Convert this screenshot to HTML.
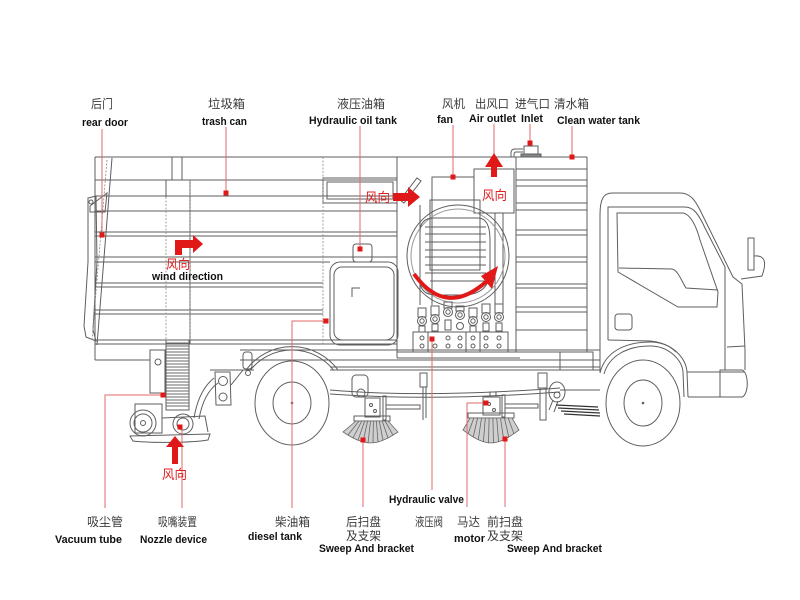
<!DOCTYPE html>
<html><head><meta charset="utf-8"><style>
html,body{margin:0;padding:0;background:#fff;}
svg{display:block;}
.l{fill:none;stroke:#5e5e5e;stroke-width:1;}
.g{fill:none;stroke:#8a8a8a;stroke-width:0.8;}
.ds{fill:none;stroke:#8a8a8a;stroke-width:0.8;stroke-dasharray:2 1.5;}
.r{fill:none;stroke:#e26a6a;stroke-width:1;}
.d{fill:#e01818;}
.ra{fill:#e01818;}
.cn{font-family:"Liberation Sans","Noto Sans CJK SC",sans-serif;font-size:12px;fill:#3a3a3a;}
.en{font-family:"Liberation Sans",sans-serif;font-size:11px;font-weight:bold;fill:#111;}
.rc{font-family:"Liberation Sans","Noto Sans CJK SC",sans-serif;font-size:13px;fill:#e02020;}
</style></head><body>
<svg width="800" height="600" viewBox="0 0 800 600" xmlns="http://www.w3.org/2000/svg">

<!-- ===== BODY: trash can ===== -->
<g class="l">
  <line x1="95" y1="157" x2="587" y2="157"/>
  <line x1="95" y1="157" x2="95" y2="360"/>
  <line x1="95" y1="360" x2="150" y2="360"/>
  <line x1="95" y1="180" x2="166" y2="180"/>
  <line x1="190" y1="180" x2="397" y2="180"/>
  <line x1="95" y1="196" x2="397" y2="196"/>
  <line x1="95" y1="211" x2="397" y2="211"/>
  <line x1="95" y1="232" x2="397" y2="232"/>
  <line x1="95" y1="236" x2="397" y2="236"/>
  <line x1="95" y1="257" x2="397" y2="257"/>
  <line x1="95" y1="262" x2="330" y2="262"/>
  <line x1="95" y1="283" x2="323" y2="283"/>
  <line x1="95" y1="287" x2="323" y2="287"/>
  <line x1="95" y1="310" x2="323" y2="310"/>
  <line x1="95" y1="314" x2="323" y2="314"/>
  <line x1="95" y1="340" x2="397" y2="340"/>
  <line x1="95" y1="344" x2="397" y2="344"/>
  <line x1="397" y1="157" x2="397" y2="358"/>
  <!-- post + notch -->
  <rect x="172" y="157" width="10" height="23"/>
  <path d="M166,197 L166,180 L190,180 L190,344"/>
  <!-- hydraulic oil tank section -->
  <path d="M323,178 L397,178 L397,203 L323,203 Z"/>
  <path d="M327,182 L393,182 L393,199 L327,199 Z"/>
  <rect x="353" y="244" width="19" height="18" rx="3"/>
  <rect x="330" y="262" width="68" height="83" rx="10"/>
  <rect x="334" y="267" width="60" height="73" rx="8"/>
  <path d="M352,297 L352,288 L360,288"/>
</g>
<line class="ds" x1="323" y1="157" x2="323" y2="345"/>
<line class="ds" x1="166" y1="197" x2="166" y2="340"/>
<line class="ds" x1="190" y1="180" x2="190" y2="340"/>

<!-- rear door -->
<g class="l">
  <line x1="112" y1="158" x2="97" y2="345"/>
  <path d="M90,206 L107,193 L105,212 L90,212 Z"/>
  <path d="M88,198 L96,196 L97,262 L93,330 L96,341 L86,337 L84,326 L88,262 Z"/>
  <circle cx="91" cy="202" r="2"/>
</g>
<line class="ds" x1="107" y1="160" x2="92" y2="340"/>

<!-- ===== Fan section ===== -->
<g class="l">
  <path d="M400,200 L417,178 L421,181 L404,203 Z"/>
  <path d="M432,305 L432,177 L474,177"/>
  <rect x="474" y="169" width="40" height="44"/>
  <line x1="420" y1="205" x2="420" y2="305"/>
  <line x1="495" y1="213" x2="495" y2="305"/>
  <line x1="503" y1="213" x2="503" y2="305"/>
  <circle cx="458" cy="256" r="51"/>
  <circle cx="458" cy="256" r="47" stroke="#9a9a9a"/>
  <path d="M420,232 Q420,218 434,218 L478,218 Q490,218 490,240 L490,270 Q490,295 462,295 L436,295 Q420,295 420,280 Z"/>
  <rect x="430" y="200" width="50" height="70"/>
  <line x1="425" y1="227" x2="486" y2="227"/>
  <line x1="425" y1="234" x2="486" y2="234"/>
  <line x1="425" y1="242" x2="486" y2="242"/>
  <line x1="425" y1="250" x2="486" y2="250"/>
  <line x1="425" y1="257" x2="486" y2="257"/>
  <line x1="425" y1="265" x2="486" y2="265"/>
  <line x1="425" y1="273" x2="486" y2="273"/>
  <line x1="430" y1="281" x2="484" y2="281"/>
  <!-- valve block -->
  <rect x="413" y="332" width="95" height="20"/>
  <line x1="397" y1="352" x2="520" y2="352"/>
  <line x1="397" y1="358" x2="520" y2="358"/>
</g>
<g class="l" stroke-width="0.9">
  <rect x="418" y="308" width="8" height="9"/><circle cx="422" cy="321" r="4.5"/><circle cx="422" cy="321" r="2.2"/><rect x="419" y="326" width="6" height="6"/><circle cx="422" cy="338" r="2"/><circle cx="422" cy="346" r="2"/>
  <rect x="431" y="306" width="8" height="9"/><circle cx="435" cy="319" r="4.5"/><circle cx="435" cy="319" r="2.2"/><rect x="432" y="324" width="6" height="7"/><circle cx="435" cy="346" r="2"/>
  <rect x="444" y="302" width="8" height="6"/><circle cx="448" cy="312" r="4.5"/><circle cx="448" cy="312" r="2.2"/><rect x="445" y="320" width="6" height="10"/><circle cx="448" cy="338" r="2"/><circle cx="448" cy="346" r="2"/>
  <rect x="456" y="306" width="8" height="5"/><circle cx="460" cy="315" r="4.5"/><circle cx="460" cy="315" r="2.2"/><circle cx="460" cy="326" r="3.5"/><circle cx="460" cy="338" r="2"/><circle cx="460" cy="346" r="2"/>
  <rect x="469" y="308" width="8" height="9"/><circle cx="473" cy="321" r="4.5"/><circle cx="473" cy="321" r="2.2"/><rect x="470" y="326" width="6" height="6"/><circle cx="473" cy="338" r="2"/><circle cx="473" cy="346" r="2"/>
  <rect x="482" y="304" width="8" height="9"/><circle cx="486" cy="317" r="4.5"/><circle cx="486" cy="317" r="2.2"/><rect x="483" y="323" width="6" height="8"/><circle cx="486" cy="338" r="2"/><circle cx="486" cy="346" r="2"/>
  <rect x="495" y="304" width="8" height="9"/><circle cx="499" cy="317" r="4.5"/><circle cx="499" cy="317" r="2.2"/><rect x="496" y="323" width="6" height="8"/><circle cx="499" cy="338" r="2"/><circle cx="499" cy="346" r="2"/>
  <line x1="428" y1="332" x2="428" y2="352"/><line x1="466" y1="332" x2="466" y2="352"/><line x1="480" y1="332" x2="480" y2="352"/>
</g>

<!-- ===== Clean water tank ===== -->
<g class="l">
  <line x1="516" y1="157" x2="516" y2="352"/>
  <line x1="587" y1="157" x2="587" y2="352"/>
  <line x1="516" y1="169" x2="587" y2="169"/>
  <line x1="516" y1="180" x2="587" y2="180"/>
  <line x1="516" y1="186" x2="587" y2="186"/>
  <line x1="516" y1="203" x2="587" y2="203"/>
  <line x1="516" y1="210" x2="587" y2="210"/>
  <line x1="516" y1="230" x2="587" y2="230"/>
  <line x1="516" y1="235" x2="587" y2="235"/>
  <line x1="516" y1="257" x2="587" y2="257"/>
  <line x1="516" y1="262" x2="587" y2="262"/>
  <line x1="516" y1="284" x2="587" y2="284"/>
  <line x1="516" y1="288" x2="587" y2="288"/>
  <line x1="516" y1="307" x2="587" y2="307"/>
  <line x1="516" y1="312" x2="587" y2="312"/>
  <line x1="516" y1="330" x2="587" y2="330"/>
  <line x1="516" y1="352" x2="593" y2="352"/>
  <rect x="560" y="352" width="33" height="18"/>
  <!-- inlet -->
  <rect x="524" y="146" width="14" height="8"/>
  <rect x="521" y="154" width="20" height="3" fill="#888"/>
  <path d="M523,149 L515,149 Q511,149 511,153 L511,157"/>
  <path d="M523,152 L516,152 Q514,152 514,155 L514,157"/>
</g>

<!-- ===== Chassis ===== -->
<g class="l">
  <line x1="240" y1="350" x2="600" y2="350"/>
  <line x1="240" y1="360" x2="600" y2="360"/>
  <line x1="330" y1="367" x2="600" y2="367"/>
  <line x1="330" y1="370" x2="600" y2="370"/>
  <line x1="210" y1="370" x2="254" y2="370"/>
  <line x1="560" y1="390" x2="600" y2="390"/>
  <path d="M330,390 C400,396 480,394 560,388"/>
  <path d="M330,394 C400,399 480,398 560,392"/>
  <!-- rear wheel arch + wheel -->
  <path d="M250.5,370 A53,53 0 0 1 333.5,370"/>
  <path d="M246,370 A57,57 0 0 1 338,370"/>
  <ellipse cx="292" cy="403" rx="37" ry="42"/>
  <ellipse cx="292" cy="403" rx="19" ry="21"/>
  <circle cx="292" cy="403" r="0.8" fill="#555"/>
  <!-- bracket near arch -->
  <rect x="243" y="352" width="9" height="17" rx="3"/>
  <circle cx="248" cy="373" r="2.5"/>
</g>

<!-- vacuum tube + nozzle -->
<g class="l">
  <rect x="150" y="350" width="15" height="43"/>
  <circle cx="158" cy="362" r="3"/>
  <rect x="166" y="340" width="23" height="70"/>
</g>
<g stroke="#6a6a6a" stroke-width="0.9">
  <line x1="166" y1="343" x2="189" y2="343"/><line x1="166" y1="346" x2="189" y2="346"/><line x1="166" y1="349" x2="189" y2="349"/><line x1="166" y1="352" x2="189" y2="352"/><line x1="166" y1="355" x2="189" y2="355"/><line x1="166" y1="358" x2="189" y2="358"/><line x1="166" y1="361" x2="189" y2="361"/><line x1="166" y1="364" x2="189" y2="364"/><line x1="166" y1="367" x2="189" y2="367"/><line x1="166" y1="370" x2="189" y2="370"/><line x1="166" y1="373" x2="189" y2="373"/><line x1="166" y1="376" x2="189" y2="376"/><line x1="166" y1="379" x2="189" y2="379"/><line x1="166" y1="382" x2="189" y2="382"/><line x1="166" y1="385" x2="189" y2="385"/><line x1="166" y1="388" x2="189" y2="388"/><line x1="166" y1="391" x2="189" y2="391"/><line x1="166" y1="394" x2="189" y2="394"/><line x1="166" y1="397" x2="189" y2="397"/><line x1="166" y1="400" x2="189" y2="400"/><line x1="166" y1="403" x2="189" y2="403"/><line x1="166" y1="406" x2="189" y2="406"/>
</g>
<g class="l">
  <rect x="135" y="404" width="27" height="29"/>
  <circle cx="143" cy="423" r="13"/>
  <circle cx="143" cy="423" r="9"/>
  <circle cx="143" cy="423" r="2.5"/>
  <circle cx="183" cy="424" r="10"/>
  <circle cx="183" cy="424" r="6"/>
  <path d="M130,436 L210,434 L208,440 C190,443 150,443 133,441 Z"/>
  <path d="M162,418 L205,416 L208,432"/>
  <path d="M194,418 C197,400 204,386 214,378"/>
  <path d="M199,419 C202,402 208,390 218,383"/>
  <path d="M215,372 L230,372 L231,405 L216,405 Z"/>
  <circle cx="223" cy="381" r="4.5"/>
  <circle cx="223" cy="397" r="4"/>
  <line x1="231" y1="385" x2="243" y2="370"/>
</g>

<!-- rear sweep -->
<g class="l">
  <rect x="352" y="375" width="16" height="22" rx="4"/>
  <circle cx="361" cy="393" r="4"/>
  <rect x="365" y="398" width="15" height="19"/>
  <circle cx="371" cy="405" r="1.5"/><circle cx="375" cy="411" r="1.5"/>
  <rect x="383" y="396" width="3" height="24"/>
  <rect x="386" y="405" width="34" height="4"/>
  <rect x="420" y="373" width="7" height="14"/>
  <line x1="423" y1="387" x2="423" y2="420"/>
  <line x1="426" y1="387" x2="426" y2="418"/>
  <rect x="354" y="416" width="36" height="5"/>
</g>
<path d="M356,421 L388,421 L398,432 L393,435.1 L388,438 L383,440.3 L378,442 L373,442.9 L368,442.9 L363,442 L358,440.3 L353,438 L348,435.1 L343,432 Z" fill="#cfcfcf" stroke="#666" stroke-width="0.8"/>
<g stroke="#666" stroke-width="0.8">
  <line x1="358.9" y1="421" x2="348" y2="435.1"/><line x1="361.8" y1="421" x2="353" y2="438"/><line x1="364.7" y1="421" x2="358" y2="440.3"/><line x1="367.6" y1="421" x2="363" y2="442"/><line x1="370.5" y1="421" x2="368" y2="442.9"/><line x1="373.4" y1="421" x2="373" y2="442.9"/><line x1="376.4" y1="421" x2="378" y2="442"/><line x1="379.3" y1="421" x2="383" y2="440.3"/><line x1="382.2" y1="421" x2="388" y2="438"/><line x1="385.1" y1="421" x2="393" y2="435.1"/>
</g>

<!-- front sweep -->
<g class="l">
  <rect x="490" y="392" width="6" height="5"/>
  <rect x="483" y="397" width="17" height="18"/>
  <circle cx="489" cy="404" r="1.5"/><circle cx="494" cy="410" r="1.5"/>
  <rect x="502" y="395" width="3" height="22"/>
  <rect x="505" y="404" width="33" height="4"/>
  <rect x="538" y="373" width="9" height="15"/>
  <rect x="540" y="388" width="6" height="32"/>
  <ellipse cx="557" cy="392" rx="8" ry="10"/>
  <circle cx="557" cy="395" r="3"/>
  <line x1="553" y1="400" x2="549" y2="410"/>
  <line x1="558" y1="401" x2="554" y2="412"/>
  <rect x="468" y="413" width="46" height="5"/>
</g>
<path d="M470,418 L512,418 L519,430 L513.9,433.7 L508.8,437 L503.7,439.8 L498.6,441.8 L493.5,442.9 L488.5,442.9 L483.4,441.8 L478.3,439.8 L473.2,437 L468.1,433.7 L463,430 Z" fill="#cfcfcf" stroke="#666" stroke-width="0.8"/>
<g stroke="#666" stroke-width="0.8">
  <line x1="473.8" y1="418" x2="468.1" y2="433.7"/><line x1="477.6" y1="418" x2="473.2" y2="437"/><line x1="481.5" y1="418" x2="478.3" y2="439.8"/><line x1="485.3" y1="418" x2="483.4" y2="441.8"/><line x1="489.1" y1="418" x2="488.5" y2="442.9"/><line x1="492.9" y1="418" x2="493.5" y2="442.9"/><line x1="496.7" y1="418" x2="498.6" y2="441.8"/><line x1="500.5" y1="418" x2="503.7" y2="439.8"/><line x1="504.4" y1="418" x2="508.8" y2="437"/><line x1="508.2" y1="418" x2="513.9" y2="433.7"/>
</g>
<!-- dark strips -->
<g stroke="#333" stroke-width="1.3">
  <line x1="556" y1="405" x2="598" y2="407"/>
  <line x1="558" y1="408" x2="599" y2="410"/>
  <line x1="561" y1="411" x2="600" y2="413"/>
  <line x1="564" y1="414" x2="600" y2="416"/>
</g>

<!-- ===== Cab ===== -->
<g class="l">
  <path d="M600,372 L600,215 C600,200 603,193 612,193 L680,193 C690,193 695,200 700,210 L733,277 L742,284 L745,350 L745,370"/>
  <path d="M608,340 L608,207 L685,207 C694,207 699,215 705,228 L725,267 L725,370"/>
  <path d="M617,213 L683,213 C690,214 696,225 700,240 L718,292 L717,307 L678,307 L618,272 Z"/>
  <path d="M619,268 L672,269 C678,270 682,282 686,288 L718,290"/>
  <rect x="615" y="314" width="17" height="16" rx="3"/>
  <path d="M608,340 L650,341 C662,342 670,346 676,352"/>
  <path d="M600,373 C605,352 625,342 650,342 C672,342 686,358 687,372 L688,397"/>
  <path d="M604,374 C609,356 627,346 650,346 C669,346 682,360 683,372 L684,397"/>
  <line x1="687" y1="372" x2="745" y2="372"/>
  <line x1="688" y1="397" x2="720" y2="397"/>
  <path d="M720,370 L742,370 C749,372 749,395 742,397 L720,397 Z"/>
  <line x1="727" y1="347" x2="745" y2="346"/>
  <rect x="748" y="238" width="6" height="32"/>
  <path d="M754,256 C765,255 767,262 762,276 L741,279"/>
  <ellipse cx="643" cy="403" rx="37" ry="43"/>
  <ellipse cx="643" cy="403" rx="19" ry="23"/>
  <circle cx="643" cy="403" r="0.8" fill="#555"/>
</g>

<!-- ===== Red leader lines and dots ===== -->
<g class="r">
  <line x1="102" y1="129" x2="102" y2="235"/>
  <line x1="226" y1="127" x2="226" y2="193"/>
  <line x1="360" y1="126" x2="360" y2="249"/>
  <line x1="453" y1="125" x2="453" y2="177"/>
  <line x1="494" y1="124" x2="494" y2="155"/>
  <line x1="530" y1="124" x2="530" y2="143"/>
  <line x1="572" y1="126" x2="572" y2="157"/>
  <polyline points="163,395 105,395 105,508"/>
  <line x1="182" y1="427" x2="182" y2="508"/>
  <polyline points="326,321 292,321 292,508"/>
  <line x1="363" y1="440" x2="363" y2="507"/>
  <line x1="432" y1="339" x2="432" y2="490"/>
  <polyline points="486,403 467,403 467,507"/>
  <line x1="505" y1="439" x2="505" y2="507"/>
</g>
<g class="d">
  <rect x="99.5" y="232.5" width="5" height="5"/>
  <rect x="223.5" y="190.5" width="5" height="5"/>
  <rect x="357.5" y="246.5" width="5" height="5"/>
  <rect x="450.5" y="174.5" width="5" height="5"/>
  <rect x="527.5" y="140.5" width="5" height="5"/>
  <rect x="569.5" y="154.5" width="5" height="5"/>
  <rect x="160.5" y="392.5" width="5" height="5"/>
  <rect x="177.5" y="424.5" width="5" height="5"/>
  <rect x="323.5" y="318.5" width="5" height="5"/>
  <rect x="360.5" y="437.5" width="5" height="5"/>
  <rect x="429.5" y="336.5" width="5" height="5"/>
  <rect x="483.5" y="400.5" width="5" height="5"/>
  <rect x="502.5" y="436.5" width="5" height="5"/>
</g>

<!-- ===== Red arrows ===== -->
<path class="ra" d="M175,255 L175,240 L193,240 L193,235 L203,244 L193,253 L193,248 L182,248 L182,255 Z"/>
<path class="ra" d="M393,193 L408,193 L408,187 L420,197 L408,207 L408,201 L393,201 Z"/>
<path class="ra" d="M491,177 L491,167 L485,167 L494,153 L503,167 L497,167 L497,177 Z"/>
<path class="ra" d="M172,464 L172,447 L166,447 L175,436 L184,447 L178,447 L178,464 Z"/>
<path d="M414,274 Q446,318 487,281" fill="none" stroke="#e01818" stroke-width="4"/>
<path class="ra" d="M498,266 L481,276 L492,289 Z"/>

<!-- ===== Text ===== -->
<text class="cn" x="91" y="108" textLength="22" lengthAdjust="spacingAndGlyphs">后门</text>
<text class="en" x="82" y="126" textLength="46" lengthAdjust="spacingAndGlyphs">rear door</text>
<text class="cn" x="208" y="108" textLength="37" lengthAdjust="spacingAndGlyphs">垃圾箱</text>
<text class="en" x="202" y="125" textLength="45" lengthAdjust="spacingAndGlyphs">trash can</text>
<text class="cn" x="337" y="108" textLength="48" lengthAdjust="spacingAndGlyphs">液压油箱</text>
<text class="en" x="309" y="124" textLength="88" lengthAdjust="spacingAndGlyphs">Hydraulic oil tank</text>
<text class="cn" x="442" y="108" textLength="23" lengthAdjust="spacingAndGlyphs">风机</text>
<text class="en" x="437" y="123" textLength="16" lengthAdjust="spacingAndGlyphs">fan</text>
<text class="cn" x="475" y="108" textLength="34" lengthAdjust="spacingAndGlyphs">出风口</text>
<text class="en" x="469" y="122" textLength="47" lengthAdjust="spacingAndGlyphs">Air outlet</text>
<text class="cn" x="515" y="108" textLength="35" lengthAdjust="spacingAndGlyphs">进气口</text>
<text class="en" x="521" y="122" textLength="22" lengthAdjust="spacingAndGlyphs">Inlet</text>
<text class="cn" x="554" y="108" textLength="35" lengthAdjust="spacingAndGlyphs">清水箱</text>
<text class="en" x="557" y="124" textLength="83" lengthAdjust="spacingAndGlyphs">Clean water tank</text>

<text class="rc" x="166" y="269" textLength="24" lengthAdjust="spacingAndGlyphs">风向</text>
<text class="en" x="152" y="280" textLength="71" lengthAdjust="spacingAndGlyphs">wind direction</text>
<text class="rc" x="365" y="202" textLength="25" lengthAdjust="spacingAndGlyphs">风向</text>
<text class="rc" x="482" y="200" textLength="25" lengthAdjust="spacingAndGlyphs">风向</text>
<text class="rc" x="162" y="479" textLength="25" lengthAdjust="spacingAndGlyphs">风向</text>

<text class="cn" x="87" y="526" textLength="36" lengthAdjust="spacingAndGlyphs">吸尘管</text>
<text class="en" x="55" y="543" textLength="67" lengthAdjust="spacingAndGlyphs">Vacuum tube</text>
<text class="cn" x="158" y="526" textLength="39" lengthAdjust="spacingAndGlyphs">吸嘴装置</text>
<text class="en" x="140" y="543" textLength="67" lengthAdjust="spacingAndGlyphs">Nozzle device</text>
<text class="cn" x="275" y="526" textLength="35" lengthAdjust="spacingAndGlyphs">柴油箱</text>
<text class="en" x="248" y="540" textLength="54" lengthAdjust="spacingAndGlyphs">diesel tank</text>
<text class="en" x="389" y="503" textLength="75" lengthAdjust="spacingAndGlyphs">Hydraulic valve</text>
<text class="cn" x="346" y="526" textLength="35" lengthAdjust="spacingAndGlyphs">后扫盘</text>
<text class="cn" x="346" y="540" textLength="35" lengthAdjust="spacingAndGlyphs">及支架</text>
<text class="en" x="319" y="552" textLength="95" lengthAdjust="spacingAndGlyphs">Sweep And bracket</text>
<text class="cn" x="415" y="526" textLength="28" lengthAdjust="spacingAndGlyphs">液压阀</text>
<text class="cn" x="457" y="526" textLength="23" lengthAdjust="spacingAndGlyphs">马达</text>
<text class="en" x="454" y="542" textLength="31" lengthAdjust="spacingAndGlyphs">motor</text>
<text class="cn" x="487" y="526" textLength="36" lengthAdjust="spacingAndGlyphs">前扫盘</text>
<text class="cn" x="487" y="540" textLength="36" lengthAdjust="spacingAndGlyphs">及支架</text>
<text class="en" x="507" y="552" textLength="95" lengthAdjust="spacingAndGlyphs">Sweep And bracket</text>
</svg>
</body></html>
